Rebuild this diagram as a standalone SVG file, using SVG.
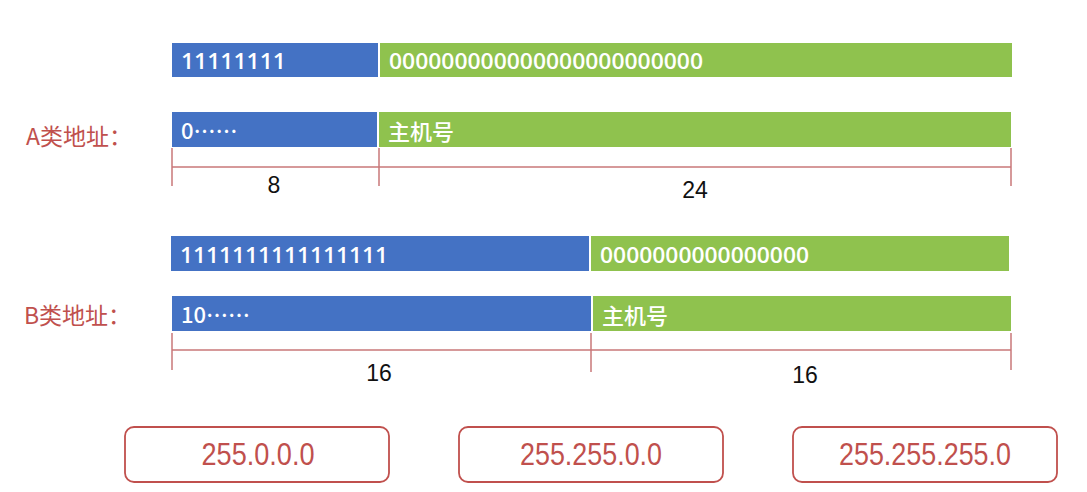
<svg xmlns="http://www.w3.org/2000/svg" width="1087" height="492" viewBox="0 0 1087 492">
<style>
.blue{fill:#4472c4}
.green{fill:#8fc24e}
.bt{fill:#ffffff;font-family:"Open Sans","Noto Sans CJK SC",sans-serif;font-size:22px;font-weight:600}
.ct{fill:#ffffff;font-family:"Noto Sans CJK SC",sans-serif;font-size:22px;font-weight:500}
.lbl{fill:#c0504d;font-family:"Noto Sans CJK SC",sans-serif;font-size:23px}
.dim{stroke:#c9787a;stroke-width:1.5;fill:none}
.num{fill:#111111;font-family:"Liberation Sans",sans-serif;font-size:23px;text-anchor:middle}
.box{fill:#ffffff;stroke:#c0504d;stroke-width:1.8}
.bx{fill:#c0504d;font-family:"Liberation Sans",sans-serif;font-size:31px;text-anchor:middle}
</style>
<rect width="1087" height="492" fill="#ffffff"/>
<g id="rowA1">
<rect class="blue" x="172" y="43" width="206" height="34"/>
<rect class="green" x="380" y="43" width="632" height="34"/>
<text class="bt" x="181" y="69" textLength="105" lengthAdjust="spacingAndGlyphs">11111111</text>
<text class="bt" x="389" y="69" textLength="314" lengthAdjust="spacingAndGlyphs">000000000000000000000000</text>
</g>
<g id="rowA2">
<text class="lbl" x="26" y="145">A类地址：</text>
<rect class="blue" x="172" y="112" width="205" height="35"/>
<rect class="green" x="379" y="112" width="632" height="35"/>
<text class="ct" x="181" y="139" font-weight="600">0……</text>
<text class="ct" x="388" y="140">主机号</text>
</g>
<g id="dimA">
<path class="dim" d="M172 167H1011M172 148V186M379 148V186M1011 148V186"/>
<text class="num" x="274" y="193">8</text>
<text class="num" x="695" y="198">24</text>
</g>
<g id="rowB1">
<rect class="blue" x="171" y="236" width="418" height="35"/>
<rect class="green" x="591" y="236" width="418" height="35"/>
<text class="bt" x="180" y="263" textLength="208" lengthAdjust="spacingAndGlyphs">1111111111111111</text>
<text class="bt" x="600" y="263" textLength="209" lengthAdjust="spacingAndGlyphs">0000000000000000</text>
</g>
<g id="rowB2">
<text class="lbl" x="24" y="324">B类地址：</text>
<rect class="blue" x="172" y="296" width="419" height="35"/>
<rect class="green" x="593" y="296" width="418" height="35"/>
<text class="ct" x="181" y="323" font-weight="600">10……</text>
<text class="ct" x="602" y="324">主机号</text>
</g>
<g id="dimB">
<path class="dim" d="M172 350H1011M172 333V370M591 333V372M1011 333V370"/>
<text class="num" x="379" y="381">16</text>
<text class="num" x="805" y="383">16</text>
</g>
<g id="mask1">
<rect class="box" x="125" y="427" width="264" height="55" rx="9"/>
<text class="bx" x="258" y="465" textLength="113" lengthAdjust="spacingAndGlyphs">255.0.0.0</text>
</g>
<g id="mask2">
<rect class="box" x="459" y="427" width="264" height="55" rx="9"/>
<text class="bx" x="591" y="465" textLength="142" lengthAdjust="spacingAndGlyphs">255.255.0.0</text>
</g>
<g id="mask3">
<rect class="box" x="793" y="427" width="264" height="55" rx="9"/>
<text class="bx" x="925" y="465" textLength="172" lengthAdjust="spacingAndGlyphs">255.255.255.0</text>
</g>
</svg>
